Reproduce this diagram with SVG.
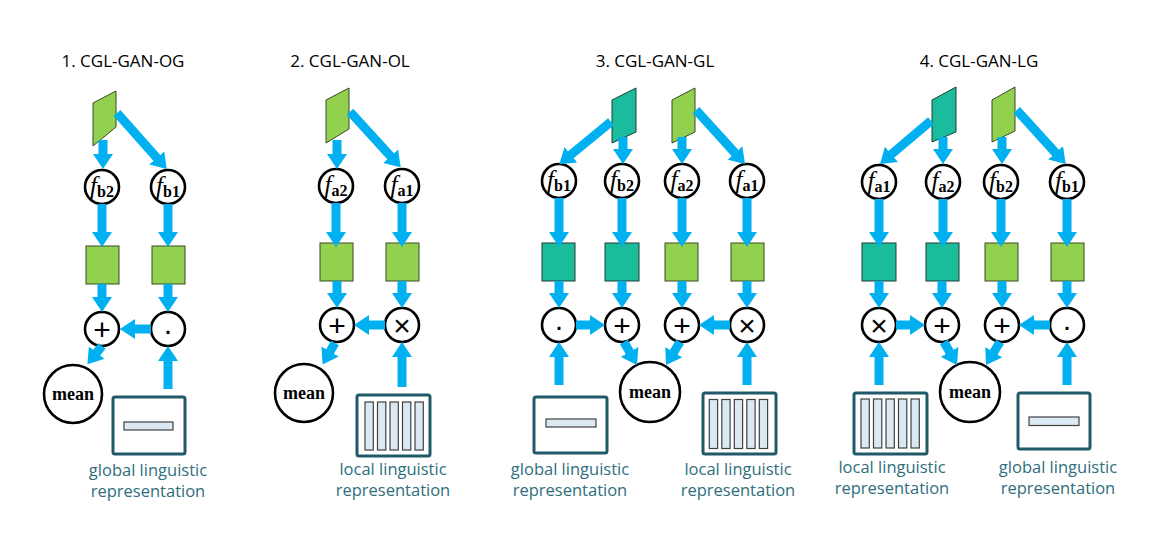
<svg xmlns="http://www.w3.org/2000/svg" width="1172" height="546" viewBox="0 0 1172 546">
<defs>
<marker id="ah" viewBox="0 0 15 20" refX="1" refY="10" markerWidth="15" markerHeight="20" markerUnits="userSpaceOnUse" orient="auto">
<path d="M0,0 L15,10 L0,20 z" fill="#00b0f0"/>
</marker>
<style>
.title{font-family:"Open Sans","Liberation Sans",Arial,sans-serif;font-size:17px;fill:#000;text-anchor:middle}
.lab{font-family:"Open Sans","Liberation Sans",Arial,sans-serif;font-size:16.5px;fill:#2f6e7c;text-anchor:middle}
.g{fill:#92d050;stroke:#3a4a25;stroke-width:1}
.t{fill:#1abc9c;stroke:#1e3d33;stroke-width:1}
.c{fill:#fff;stroke:#000;stroke-width:2.6}
.fn{font-family:"Liberation Serif","Times New Roman",serif;text-anchor:middle;fill:#000}
.fi{font-style:italic;font-size:25px}
.fs{font-weight:bold;font-size:16px}
.op{font-family:"Liberation Sans",Arial,sans-serif;font-size:30px;text-anchor:middle;dominant-baseline:central;fill:#000}
.mean{font-family:"Liberation Serif","Times New Roman",serif;font-weight:bold;font-size:18px;text-anchor:middle;fill:#000}
.box{fill:#fff;stroke:#215968;stroke-width:3}
.bar{fill:#dbeaf2;stroke:#404040;stroke-width:1.2}
.a{stroke:#00b0f0;stroke-width:9;fill:none;marker-end:url(#ah)}
</style>
</defs>
<rect width="1172" height="546" fill="#fff"/>

<g id="titles">
<text class="title" x="123" y="67">1. CGL-GAN-OG</text>
<text class="title" x="350" y="67">2. CGL-GAN-OL</text>
<text class="title" x="655" y="67">3. CGL-GAN-GL</text>
<text class="title" x="979" y="67">4. CGL-GAN-LG</text>
</g>

<!-- Section 1 -->
<g id="s1-p"><polygon class="g" points="93,103 116,91 116,127 93,146"/></g>
<g id="s1-fb2"><circle class="c" cx="102" cy="187" r="17"/><text class="fn" x="102" y="194"><tspan class="fi">f</tspan><tspan class="fs" dy="3">b2</tspan></text></g>
<g id="s1-fb1"><circle class="c" cx="168" cy="187" r="17"/><text class="fn" x="168" y="194"><tspan class="fi">f</tspan><tspan class="fs" dy="3">b1</tspan></text></g>
<g id="s1-sq1"><rect class="g" x="86" y="246" width="33" height="38"/></g>
<g id="s1-sq2"><rect class="g" x="152" y="246" width="33" height="38"/></g>
<g id="s1-plus"><circle class="c" cx="102" cy="329" r="17"/><text class="op" x="102" y="329">+</text></g>
<g id="s1-dot"><circle class="c" cx="168" cy="329" r="17"/><text class="op" x="168" y="329">·</text></g>
<g id="s1-mean"><circle class="c" cx="73" cy="394" r="29"/><text class="mean" x="73" y="400">mean</text></g>
<g id="s1-global"><rect class="box" x="113" y="397" width="72" height="57" rx="2"/><rect class="bar" x="124" y="422" width="49" height="8"/>
<text class="lab" x="148" y="476">global linguistic</text><text class="lab" x="148" y="497">representation</text></g>

<!-- Section 2 -->
<g id="s2-p"><polygon class="g" points="326,100 349,88 349,129 326,143"/></g>
<g id="s2-fa2"><circle class="c" cx="336" cy="186" r="17"/><text class="fn" x="336" y="193"><tspan class="fi">f</tspan><tspan class="fs" dy="3">a2</tspan></text></g>
<g id="s2-fa1"><circle class="c" cx="402" cy="186" r="17"/><text class="fn" x="402" y="193"><tspan class="fi">f</tspan><tspan class="fs" dy="3">a1</tspan></text></g>
<g id="s2-sq1"><rect class="g" x="320" y="243" width="33" height="38"/></g>
<g id="s2-sq2"><rect class="g" x="386" y="243" width="33" height="38"/></g>
<g id="s2-plus"><circle class="c" cx="337" cy="325" r="17"/><text class="op" x="337" y="325">+</text></g>
<g id="s2-times"><circle class="c" cx="402" cy="325" r="17"/><text class="op" x="402" y="325">×</text></g>
<g id="s2-mean"><circle class="c" cx="304" cy="393" r="29"/><text class="mean" x="304" y="399">mean</text></g>
<g id="s2-local"><rect class="box" x="357" y="395" width="73" height="61" rx="2"/>
<rect class="bar" x="365" y="402" width="8.3" height="48"/><rect class="bar" x="377.5" y="402" width="8.3" height="48"/><rect class="bar" x="390" y="402" width="8.3" height="48"/><rect class="bar" x="402.5" y="402" width="8.3" height="48"/><rect class="bar" x="415" y="402" width="8.3" height="48"/>
<text class="lab" x="393" y="475">local linguistic</text><text class="lab" x="393" y="496">representation</text></g>

<!-- Section 3 -->
<g id="s3-pt"><polygon class="t" points="612,100 636,88 636,132 612,143"/></g>
<g id="s3-pg"><polygon class="g" points="672,100 695,88 695,132 672,143"/></g>
<g id="s3-fb1"><circle class="c" cx="559" cy="181" r="17"/><text class="fn" x="559" y="188"><tspan class="fi">f</tspan><tspan class="fs" dy="3">b1</tspan></text></g>
<g id="s3-fb2"><circle class="c" cx="622" cy="181" r="17"/><text class="fn" x="622" y="188"><tspan class="fi">f</tspan><tspan class="fs" dy="3">b2</tspan></text></g>
<g id="s3-fa2"><circle class="c" cx="682" cy="181" r="17"/><text class="fn" x="682" y="188"><tspan class="fi">f</tspan><tspan class="fs" dy="3">a2</tspan></text></g>
<g id="s3-fa1"><circle class="c" cx="747" cy="181" r="17"/><text class="fn" x="747" y="188"><tspan class="fi">f</tspan><tspan class="fs" dy="3">a1</tspan></text></g>
<g id="s3-sq1"><rect class="t" x="542" y="243" width="33" height="38"/></g>
<g id="s3-sq2"><rect class="t" x="605" y="243" width="34" height="38"/></g>
<g id="s3-sq3"><rect class="g" x="665" y="243" width="33" height="38"/></g>
<g id="s3-sq4"><rect class="g" x="731" y="243" width="33" height="38"/></g>
<g id="s3-dot"><circle class="c" cx="559" cy="325" r="17"/><text class="op" x="559" y="325">·</text></g>
<g id="s3-plus1"><circle class="c" cx="622" cy="325" r="17"/><text class="op" x="622" y="325">+</text></g>
<g id="s3-plus2"><circle class="c" cx="682" cy="325" r="17"/><text class="op" x="682" y="325">+</text></g>
<g id="s3-times"><circle class="c" cx="747" cy="325" r="17"/><text class="op" x="747" y="325">×</text></g>
<g id="s3-mean"><circle class="c" cx="650" cy="392" r="30"/><text class="mean" x="650" y="398">mean</text></g>
<g id="s3-global"><rect class="box" x="534" y="397" width="73" height="56" rx="2"/><rect class="bar" x="546" y="419" width="50" height="8"/>
<text class="lab" x="570" y="475">global linguistic</text><text class="lab" x="570" y="496">representation</text></g>
<g id="s3-local"><rect class="box" x="703" y="393" width="73" height="61" rx="2"/>
<rect class="bar" x="709.3" y="399.5" width="8.3" height="49"/><rect class="bar" x="721.8" y="399.5" width="8.3" height="49"/><rect class="bar" x="734.3" y="399.5" width="8.3" height="49"/><rect class="bar" x="746.8" y="399.5" width="8.3" height="49"/><rect class="bar" x="759.3" y="399.5" width="8.3" height="49"/>
<text class="lab" x="738" y="475">local linguistic</text><text class="lab" x="738" y="496">representation</text></g>

<!-- Section 4 -->
<g id="s4-pt"><polygon class="t" points="932,100 956,87 956,132 932,142"/></g>
<g id="s4-pg"><polygon class="g" points="992,100 1015,87 1015,131 992,142"/></g>
<g id="s4-fa1"><circle class="c" cx="879" cy="182" r="17"/><text class="fn" x="879" y="189"><tspan class="fi">f</tspan><tspan class="fs" dy="3">a1</tspan></text></g>
<g id="s4-fa2"><circle class="c" cx="943" cy="182" r="17"/><text class="fn" x="943" y="189"><tspan class="fi">f</tspan><tspan class="fs" dy="3">a2</tspan></text></g>
<g id="s4-fb2"><circle class="c" cx="1001" cy="182" r="17"/><text class="fn" x="1001" y="189"><tspan class="fi">f</tspan><tspan class="fs" dy="3">b2</tspan></text></g>
<g id="s4-fb1"><circle class="c" cx="1067" cy="182" r="17"/><text class="fn" x="1067" y="189"><tspan class="fi">f</tspan><tspan class="fs" dy="3">b1</tspan></text></g>
<g id="s4-sq1"><rect class="t" x="862" y="243" width="34" height="38"/></g>
<g id="s4-sq2"><rect class="t" x="926" y="243" width="33" height="38"/></g>
<g id="s4-sq3"><rect class="g" x="985" y="243" width="33" height="38"/></g>
<g id="s4-sq4"><rect class="g" x="1051" y="243" width="33" height="38"/></g>
<g id="s4-times"><circle class="c" cx="879" cy="325" r="17"/><text class="op" x="879" y="325">×</text></g>
<g id="s4-plus1"><circle class="c" cx="942" cy="325" r="17"/><text class="op" x="942" y="325">+</text></g>
<g id="s4-plus2"><circle class="c" cx="1002" cy="325" r="17"/><text class="op" x="1002" y="325">+</text></g>
<g id="s4-dot"><circle class="c" cx="1067" cy="325" r="17"/><text class="op" x="1067" y="325">·</text></g>
<g id="s4-mean"><circle class="c" cx="970" cy="392" r="30"/><text class="mean" x="970" y="398">mean</text></g>
<g id="s4-local"><rect class="box" x="854" y="393" width="73" height="61" rx="2"/>
<rect class="bar" x="861" y="399" width="8.3" height="49"/><rect class="bar" x="873.5" y="399" width="8.3" height="49"/><rect class="bar" x="886" y="399" width="8.3" height="49"/><rect class="bar" x="898.5" y="399" width="8.3" height="49"/><rect class="bar" x="911" y="399" width="8.3" height="49"/>
<text class="lab" x="892" y="473">local linguistic</text><text class="lab" x="892" y="494">representation</text></g>
<g id="s4-global"><rect class="box" x="1018" y="393" width="72" height="56" rx="2"/><rect class="bar" x="1029" y="417" width="50" height="8.5"/>
<text class="lab" x="1058" y="473">global linguistic</text><text class="lab" x="1058" y="494">representation</text></g>

<g id="connectors">
<!-- S1 -->
<line class="a" x1="103" y1="140" x2="103" y2="155"/>
<line class="a" x1="117" y1="113" x2="157.4" y2="158.6"/>
<line class="a" x1="102" y1="204" x2="102" y2="233"/>
<line class="a" x1="168" y1="204" x2="168" y2="233"/>
<line class="a" x1="102" y1="284" x2="102" y2="298"/>
<line class="a" x1="168" y1="284" x2="168" y2="298"/>
<line class="a" x1="151" y1="329" x2="134" y2="329"/>
<line class="a" x1="102" y1="346" x2="96.1" y2="353.4"/>
<line class="a" x1="168" y1="389" x2="168" y2="360"/>
<!-- S2 -->
<line class="a" x1="337" y1="140" x2="337" y2="155"/>
<line class="a" x1="350" y1="111.7" x2="391.3" y2="157"/>
<line class="a" x1="336" y1="203" x2="336" y2="233"/>
<line class="a" x1="402" y1="203" x2="402" y2="233"/>
<line class="a" x1="337" y1="281" x2="337" y2="294"/>
<line class="a" x1="402" y1="281" x2="402" y2="294"/>
<line class="a" x1="385" y1="325" x2="368" y2="325"/>
<line class="a" x1="335" y1="343" x2="329.6" y2="352.3"/>
<line class="a" x1="402" y1="387" x2="402" y2="356"/>
<!-- S3 -->
<line class="a" x1="611" y1="121.7" x2="570.1" y2="155.4"/>
<line class="a" x1="623" y1="137" x2="623" y2="150"/>
<line class="a" x1="682" y1="137" x2="682" y2="150"/>
<line class="a" x1="696" y1="110" x2="735.6" y2="153.6"/>
<line class="a" x1="559" y1="198" x2="559" y2="233"/>
<line class="a" x1="622" y1="198" x2="622" y2="233"/>
<line class="a" x1="682" y1="198" x2="682" y2="233"/>
<line class="a" x1="747" y1="198" x2="747" y2="233"/>
<line class="a" x1="559" y1="281" x2="559" y2="294"/>
<line class="a" x1="622" y1="281" x2="622" y2="294"/>
<line class="a" x1="682" y1="281" x2="682" y2="294"/>
<line class="a" x1="747" y1="281" x2="747" y2="294"/>
<line class="a" x1="576" y1="325" x2="591" y2="325"/>
<line class="a" x1="730" y1="325" x2="713" y2="325"/>
<line class="a" x1="624" y1="342" x2="630.1" y2="352.8"/>
<line class="a" x1="680" y1="342" x2="673.3" y2="353"/>
<line class="a" x1="559" y1="385" x2="559" y2="356"/>
<line class="a" x1="747" y1="385" x2="747" y2="356"/>
<!-- S4 -->
<line class="a" x1="931" y1="120.7" x2="890.7" y2="154.9"/>
<line class="a" x1="943" y1="137" x2="943" y2="150"/>
<line class="a" x1="1002" y1="137" x2="1002" y2="150"/>
<line class="a" x1="1016.7" y1="110" x2="1056.3" y2="153.6"/>
<line class="a" x1="879" y1="199" x2="879" y2="233"/>
<line class="a" x1="943" y1="199" x2="943" y2="233"/>
<line class="a" x1="1001" y1="199" x2="1001" y2="233"/>
<line class="a" x1="1067" y1="199" x2="1067" y2="233"/>
<line class="a" x1="879" y1="281" x2="879" y2="294"/>
<line class="a" x1="942" y1="281" x2="942" y2="294"/>
<line class="a" x1="1002" y1="281" x2="1002" y2="294"/>
<line class="a" x1="1067" y1="281" x2="1067" y2="294"/>
<line class="a" x1="896" y1="325" x2="911" y2="325"/>
<line class="a" x1="1050" y1="325" x2="1033" y2="325"/>
<line class="a" x1="944" y1="342" x2="950.1" y2="352.8"/>
<line class="a" x1="1000" y1="342" x2="993.3" y2="353"/>
<line class="a" x1="879" y1="385" x2="879" y2="356"/>
<line class="a" x1="1067" y1="385" x2="1067" y2="356"/>
</g>
</svg>
